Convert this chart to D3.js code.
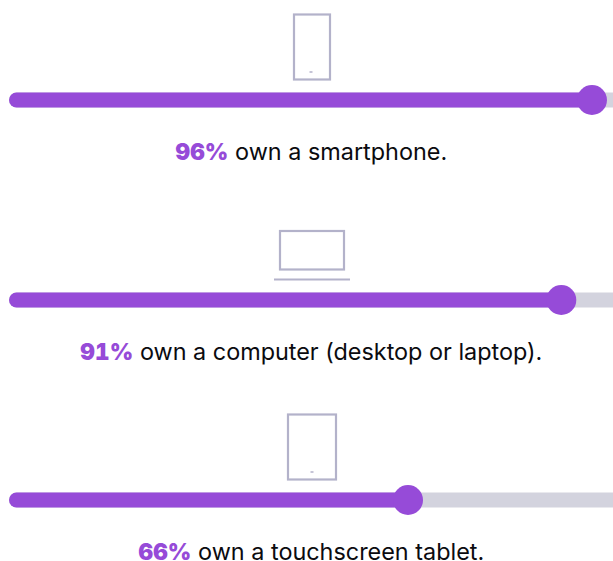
<!DOCTYPE html>
<html>
<head>
<meta charset="utf-8">
<script src="https://cdn.jsdelivr.net/npm/d3@7/dist/d3.min.js"></script>
<style>
html, body { margin: 0; padding: 0; background: #fff; }
svg { display: block; }
text { font-family: Inter, "Noto Sans", sans-serif; }
.pct { font-variant-numeric: tabular-nums; font-feature-settings: "tnum" 1; }
</style>
</head>
<body>
<svg id="chart" width="613" height="561"></svg>
<script>
const devices = ["smartphone", "computer", "tablet"];
const shares = [96, 91, 66];
const captions = ["own a smartphone.", "own a computer (desktop or laptop).", "own a touchscreen tablet."];

const PURPLE = "#964bd8";
const TRACK = "#d3d3de";
const OUTLINE = "#b3b2ca";

const svg = d3.select("#chart");
const x = d3.scaleLinear().domain([0, 100]).range([3.3, 616.5]);
const rowY = d3.scalePoint().domain(devices).range([100, 500]);

const row = svg.selectAll("g.row")
  .data(devices.map((d, i) => ({ device: d, share: shares[i], caption: captions[i] })))
  .join("g")
  .attr("class", "row")
  .attr("transform", d => `translate(0,${rowY(d.device)})`);

// Track, filled portion and knob
row.append("rect")
  .attr("x", 9).attr("y", -7.5)
  .attr("width", 620).attr("height", 15).attr("rx", 7.5)
  .attr("fill", TRACK);
row.append("rect")
  .attr("x", 9).attr("y", -7.5)
  .attr("width", d => x(d.share) - 9).attr("height", 15)
  .attr("rx", 7.5)
  .attr("fill", PURPLE);
row.append("circle")
  .attr("cx", d => x(d.share)).attr("cy", 0).attr("r", 15)
  .attr("fill", PURPLE);

// Caption with the bold percentage
const caption = row.append("text")
  .attr("x", 311.3).attr("y", 60)
  .attr("text-anchor", "middle")
  .attr("font-size", 23.4).attr("fill", "#0b0b0f");
caption.append("tspan")
  .attr("class", "pct")
  .attr("font-weight", 900).attr("fill", PURPLE).attr("font-size", 22.5).attr("letter-spacing", 0.2)
  .text(d => d.share + "%");
caption.append("tspan").text(d => " " + d.caption);

// Device outlines
const outline = g => g.attr("fill", "none").attr("stroke", OUTLINE).attr("stroke-width", 2.2);
const home = (g, cx, cy) => g.append("line")
  .attr("x1", cx - 1.5).attr("x2", cx + 1.5).attr("y1", cy).attr("y2", cy)
  .attr("stroke", OUTLINE).attr("stroke-width", 1.5);

const phone = row.filter(d => d.device === "smartphone").append("g").call(outline);
phone.append("rect").attr("x", 294).attr("y", -85.5).attr("width", 36).attr("height", 65);
home(phone, 311, -28);

const laptop = row.filter(d => d.device === "computer").append("g").call(outline);
laptop.append("rect").attr("x", 280).attr("y", -69).attr("width", 64).attr("height", 38.5);
laptop.append("line").attr("x1", 274).attr("x2", 350).attr("y1", -20.5).attr("y2", -20.5);

const tablet = row.filter(d => d.device === "tablet").append("g").call(outline);
tablet.append("rect").attr("x", 288).attr("y", -85.5).attr("width", 48).attr("height", 65);
home(tablet, 312, -28);
</script>
</body>
</html>
